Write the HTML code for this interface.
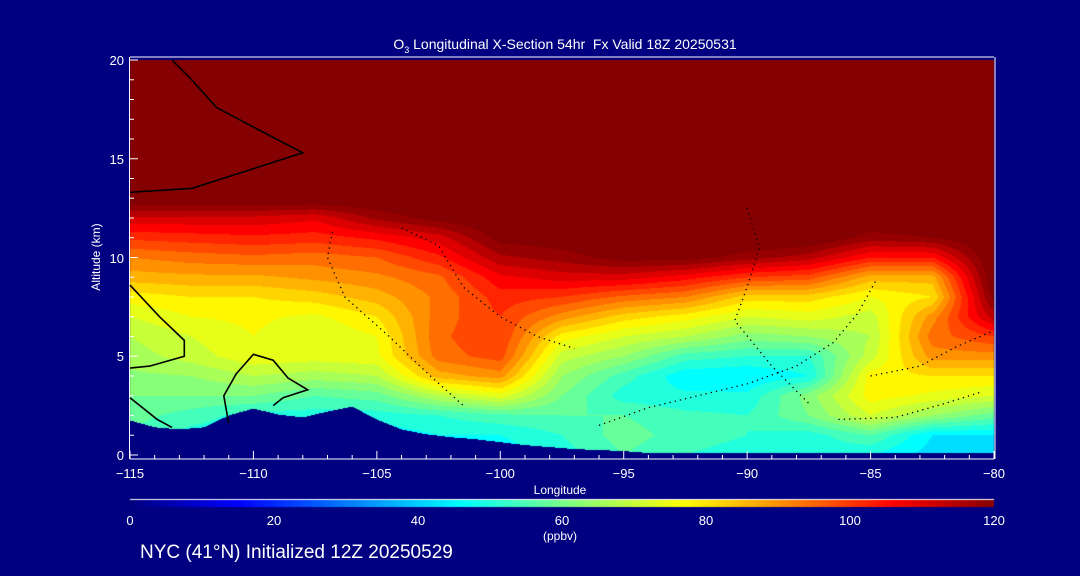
<!DOCTYPE html>
<html><head><meta charset="utf-8">
<style>
html,body{margin:0;padding:0;background:#000080;}
#wrap{position:relative;width:1080px;height:576px;overflow:hidden;background:#000080;font-family:"Liberation Sans",sans-serif;color:#fff;}
.t{position:absolute;white-space:nowrap;font-size:13px;line-height:1;}
canvas,svg{position:absolute;left:0;top:0;}
</style></head>
<body>
<div id="wrap">
<canvas id="cv" width="1080" height="576"></canvas>
<svg id="sv" width="1080" height="576"></svg>
<div class="t" style="left:0;width:1130px;top:37px;text-align:center;font-size:14px;">O<sub style="font-size:9px">3</sub> Longitudinal X-Section 54hr &nbsp;Fx Valid 18Z 20250531</div>
<div class="t" style="left:36px;top:251px;transform:rotate(-90deg);width:120px;text-align:center;font-size:12px;">Altitude (km)</div>
<div class="t" style="left:510px;top:484px;width:100px;text-align:center;font-size:12px;">Longitude</div>
<div class="t" style="left:520px;top:530px;width:80px;text-align:center;font-size:12px;">(ppbv)</div>
<div class="t" style="left:140px;top:543px;font-size:19px;">NYC (41°N) Initialized 12Z 20250529</div>
<div id="labels"></div>
</div>
<script>
// ---- data ----
const lons = [-115,-112.5,-110,-107.5,-105,-102.5,-100,-97.5,-95,-92.5,-90,-87.5,-85,-82.5,-80];
const alts = [0,1,2,3,4,5,6,7,8,9,10,11,12,13,14,20];
// ozone (ppbv): one array per altitude row, values across lons
const o3_0  = [50,50,50,50,45,48,45,50,56,52,50,50,48,42,40];
const o3_1  = [55,50,50,50,45,48,48,52,58,54,52,50,56,44,44];
const o3_2  = [58,54,50,50,50,52,55,56,56,53,52,60,72,64,58];
const o3_3  = [60,60,60,56,58,68,74,60,50,49,49,62,78,75,72];
const o3_4  = [63,64,68,66,68,86,90,64,54,45,44,48,78,80,80];
const o3_5  = [66,70,75,74,75,94,98,70,64,54,52,52,70,90,90];
const o3_6  = [68,72,76,72,76,95,100,78,72,68,62,64,68,94,100];
const o3_7  = [72,76,77,75,80,94,100,90,82,78,72,74,70,90,114];
const o3_8  = [78,80,80,82,86,93,102,100,95,92,82,82,76,80,122];
const o3_9  = [86,87,87,89,91,95,107,110,110,106,100,98,86,86,125];
const o3_10 = [92,94,95,94,96,103,115,118,122,122,118,114,104,104,125];
const o3_11 = [101,102,103,102,105,110,122,123,125,125,125,125,118,120,125];
const o3_12 = [111,111,111,109,117,122,125,125,125,125,125,125,125,125,125];
const o3_13 = [125,125,125,125,125,125,125,125,125,125,125,125,125,125,125];
const o3_14 = [125,125,125,125,125,125,125,125,125,125,125,125,125,125,125];
const o3_20 = [125,125,125,125,125,125,125,125,125,125,125,125,125,125,125];
const terrainLons = [-115,-114,-113,-112,-111,-110,-109,-108,-107,-106,-105,-104,-103,-102,-101,-100,-99,-98,-97,-96,-95,-94,-80];
const terrainKm   = [1.75,1.4,1.3,1.4,2.0,2.35,2.05,1.9,2.2,2.45,1.8,1.3,1.05,0.9,0.8,0.65,0.5,0.4,0.3,0.25,0.2,0.1,0.1];
const xTicks = [-115,-110,-105,-100,-95,-90,-85,-80];
const yTicks = [0,5,10,15,20];
const cbTicks = [0,20,40,60,80,100,120];
// contour lines: [lon,alt] pairs
const c0a = [[-115,13.3],[-112.5,13.5],[-110.5,14.3],[-108,15.3],[-110,16.6],[-111.5,17.6],[-112.5,19],[-113.3,20]];
const c0b = [[-115,8.6],[-113.8,7.0],[-112.8,5.8],[-112.8,5.0],[-114.2,4.5],[-115,4.4]];
const c0c = [[-115,2.9],[-113.9,1.8],[-113.3,1.4]];
const c0d = [[-111,1.6],[-111.2,3.0],[-110.7,4.1],[-110,5.1],[-109.2,4.8],[-108.6,3.9],[-107.8,3.3],[-108.8,2.9],[-109.2,2.5]];
const cm10a = [[-104,11.5],[-102.5,10.6],[-101.5,8.5],[-100,7.0],[-98.5,6.0],[-97,5.4]];
const cm10b = [[-106.8,11.3],[-107,10],[-106.3,8],[-104.5,6],[-103,4.2],[-101.5,2.5]];
const cm10c = [[-96,1.5],[-94,2.4],[-92,3.0],[-90,3.6],[-88,4.5],[-86.5,5.7],[-85.5,7.2],[-84.8,8.8]];
const cm20  = [[-90,12.5],[-89.5,10.5],[-90,8.5],[-90.5,6.8],[-89,4.5],[-87.5,2.6]];
const cm10d = [[-86.3,1.8],[-84,1.9],[-82,2.6],[-80.5,3.2]];
const cm20b = [[-85,4],[-83,4.5],[-81.5,5.5],[-80,6.3]];
// ---- axes ----
const X0=130,X1=994,Y0=455,Y1=60;
const xs = lon => X0+(lon+115)/35*(X1-X0);
const ys = km => Y0-km/20*(Y0-Y1);
const stops=[[0,[0,0,128]],[15,[0,0,255]],[46,[0,255,255]],[61,[128,255,128]],[77,[255,255,0]],[92,[255,128,0]],[106,[255,0,0]],[120,[133,0,0]]];
function cmap(v){v=Math.max(0,Math.min(120,v));for(let i=1;i<stops.length;i++){if(v<=stops[i][0]){const a=stops[i-1],b=stops[i],t=(v-a[0])/(b[0]-a[0]);return a[1].map((c,k)=>Math.round(c+(b[1][k]-c)*t));}}return stops[stops.length-1][1];}
const rows=[o3_0,o3_1,o3_2,o3_3,o3_4,o3_5,o3_6,o3_7,o3_8,o3_9,o3_10,o3_11,o3_12,o3_13,o3_14,o3_20];
function idx(arr,v){for(let i=0;i<arr.length-1;i++){if(v<=arr[i+1])return[i,(v-arr[i])/(arr[i+1]-arr[i])];}return[arr.length-2,1];}
function field(lon,alt){const[i,tx]=idx(lons,lon),[j,ty]=idx(alts,alt);const a=rows[j][i],b=rows[j][i+1],c=rows[j+1][i],d=rows[j+1][i+1];return (a*(1-tx)+b*tx)*(1-ty)+(c*(1-tx)+d*tx)*ty;}
function terr(lon){const[i,t]=idx(terrainLons,lon);return terrainKm[i]+(terrainKm[i+1]-terrainKm[i])*t;}
const cv=document.getElementById('cv'),ctx=cv.getContext('2d');
const img=ctx.createImageData(X1-X0,Y0-Y1);
for(let py=0;py<Y0-Y1;py++){const alt=(Y0-Y1-py-0.5)/(Y0-Y1)*20;
 for(let px=0;px<X1-X0;px++){const lon=-115+(px+0.5)/(X1-X0)*35;let c;
  if(alt<terr(lon))c=[0,0,128];else{let v=field(lon,alt);v=Math.floor(v/4)*4+2;c=v>=120?[133,0,0]:cmap(v);}
  const k=(py*(X1-X0)+px)*4;img.data[k]=c[0];img.data[k+1]=c[1];img.data[k+2]=c[2];img.data[k+3]=255;}}
ctx.putImageData(img,X0,Y1);
// colorbar
for(let px=0;px<X1-X0;px++){const c=cmap(px/(X1-X0)*120);ctx.fillStyle=`rgb(${c})`;ctx.fillRect(X0+px,500,1,7);}
ctx.fillStyle='#fff';ctx.fillRect(X0,499,X1-X0,1);
// svg overlay
const NS='http://www.w3.org/2000/svg',sv=document.getElementById('sv');
function el(tag,attrs){const e=document.createElementNS(NS,tag);for(const k in attrs)e.setAttribute(k,attrs[k]);sv.appendChild(e);return e;}
let e;
e=el('line',{x1:X0,y1:Y0+4,x2:X1,y2:Y0+4,stroke:'#fff','stroke-width':1});


e=el('line',{x1:X0,y1:57,x2:X1,y2:57,stroke:'#fff','stroke-width':1});


e=el('line',{x1:X1+1,y1:57,x2:X1+1,y2:Y0+4,stroke:'#fff','stroke-width':1});


e=el('line',{x1:X0-0.5,y1:57,x2:X0-0.5,y2:Y0+4,stroke:'#fff','stroke-width':1});


for(let l=-115;l<=-80;l++){const maj=l%5===0;e=el('line',{x1:xs(l),y1:Y0+4,x2:xs(l),y2:Y0+4-(maj?8:4),stroke:'#fff'});

}
for(let k=0;k<=20;k++){const maj=k%5===0;e=el('line',{x1:X0,y1:ys(k),x2:X0+(maj?8:4),y2:ys(k),stroke:'#fff'});

}
const lab=document.getElementById('labels');
function txt(s,x,y,name,align){const d=document.createElement('div');d.className='t';d.textContent=s;d.style.top=y+'px';
 if(align==='r'){d.style.right=(1080-x)+'px';}else{d.style.left=(x-40)+'px';d.style.width='80px';d.style.textAlign='center';}
 
 
 lab.appendChild(d);}
xTicks.forEach(v=>txt('\u2212'+Math.abs(v),xs(v),467,'x-tick-label'));
yTicks.forEach(v=>txt(String(v),124,ys(v)-6,'y-tick-label','r'));
cbTicks.forEach(v=>txt(String(v),X0+v/120*(X1-X0),514,'colorbar-tick-label'));
function poly(pts,dash,name){const d=pts.map((p,i)=>(i?'L':'M')+xs(p[0]).toFixed(1)+' '+ys(p[1]).toFixed(1)).join(' ');
 const p=el('path',{d:d,fill:'none',stroke:'#000','stroke-width':dash?1.3:1.6,'stroke-dasharray':dash?'1.3 4':'none'});
 
 }
[c0a,c0b,c0c,c0d].forEach(p=>poly(p,false,'contour-zero'));
[cm10a,cm10b,cm10c,cm20,cm10d,cm20b].forEach(p=>poly(p,true,'contour-negative'));
</script>
</body></html>
